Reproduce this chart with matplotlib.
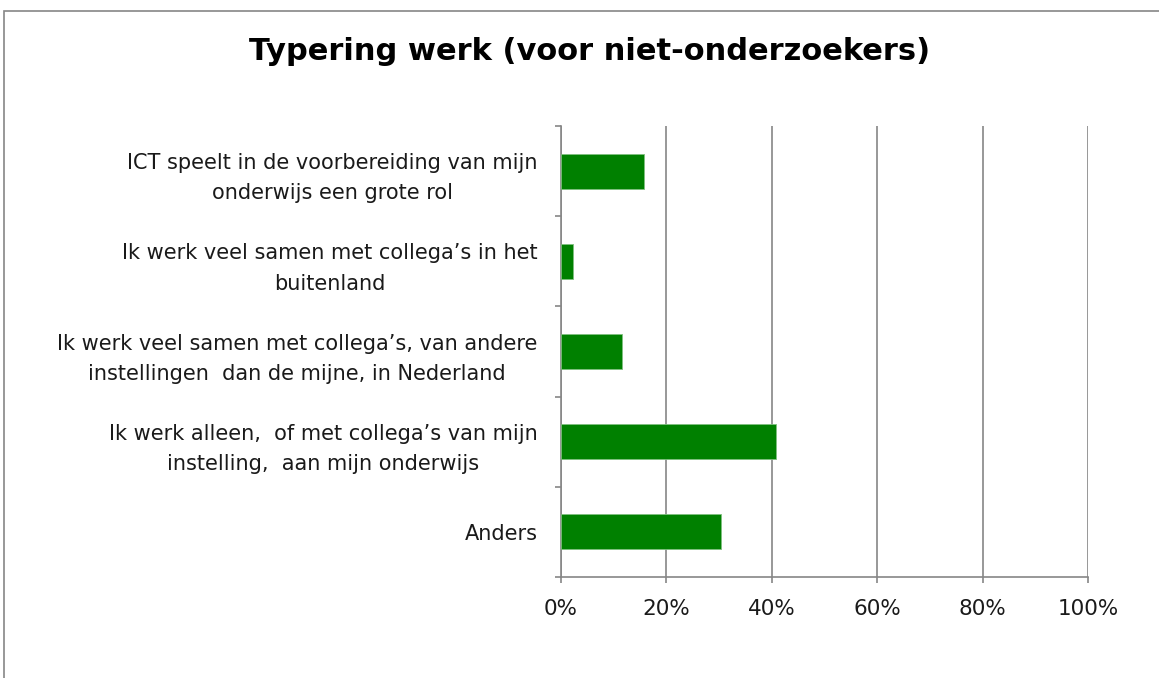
import matplotlib
matplotlib.use('Agg')
import matplotlib.pyplot as plt
import numpy as np
from matplotlib.patches import Rectangle

title = 'Typering werk (voor niet-onderzoekers)'
categories = [
    'ICT speelt in de voorbereiding van mijn\nonderwijs een grote rol',
    'Ik werk veel samen met collega\u2019s in het\nbuitenland',
    'Ik werk veel samen met collega\u2019s, van andere\ninstellingen  dan de mijne, in Nederland',
    'Ik werk alleen,  of met collega\u2019s van mijn\ninstelling,  aan mijn onderwijs',
    'Anders',
]
values = [15.8, 2.3, 11.5, 40.8, 30.3]
xticks = [0, 20, 40, 60, 80, 100]

gray = '#868686'
green = '#008000'

fig = plt.figure(figsize=(11.59, 6.78), dpi=100)

# outer chart frame
fig.patches.append(Rectangle((4 / 1159, -0.05), 1.2, 1 - 11 / 678 + 0.05,
                             transform=fig.transFigure, fill=False,
                             edgecolor=gray, linewidth=1.2))

ax = fig.add_axes([561 / 1159, 101 / 678, 527 / 1159, 451 / 678])

n = len(categories)
pos = np.arange(n)
ax.barh(pos, values, height=0.39, color=green, edgecolor='#7fc07f',
        linewidth=0.6, zorder=3)

ax.set_xlim(0, 100)
ax.set_ylim(n - 0.5, -0.5)
ax.set_xticks(xticks)
ax.set_xticklabels([f'{v}%' for v in xticks])
ax.xaxis.grid(True, color=gray, linewidth=1.2, zorder=0)

ax.set_yticks(np.arange(n + 1) - 0.5)
ax.set_yticklabels([])
ax.set_yticks(pos, minor=True)
ax.set_yticklabels(categories, minor=True, multialignment='center',
                   linespacing=1.65)

ax.tick_params(axis='y', which='major', length=4, color=gray, width=1.2,
               direction='out')
ax.tick_params(axis='y', which='minor', length=0, pad=17, labelsize=15,
               labelcolor='#1a1a1a')
ax.tick_params(axis='x', length=4, color=gray, width=1.2, direction='out',
               pad=12, labelsize=15.5, labelcolor='#1a1a1a')

for s in ['top', 'right']:
    ax.spines[s].set_visible(False)
for s in ['left', 'bottom']:
    ax.spines[s].set_color(gray)
    ax.spines[s].set_linewidth(1.2)

fig.text(590 / 1159, 1 - 51 / 678, title, ha='center', va='center',
         fontsize=22, fontweight='bold')

fig.savefig('out.png', dpi=100, facecolor='white')
